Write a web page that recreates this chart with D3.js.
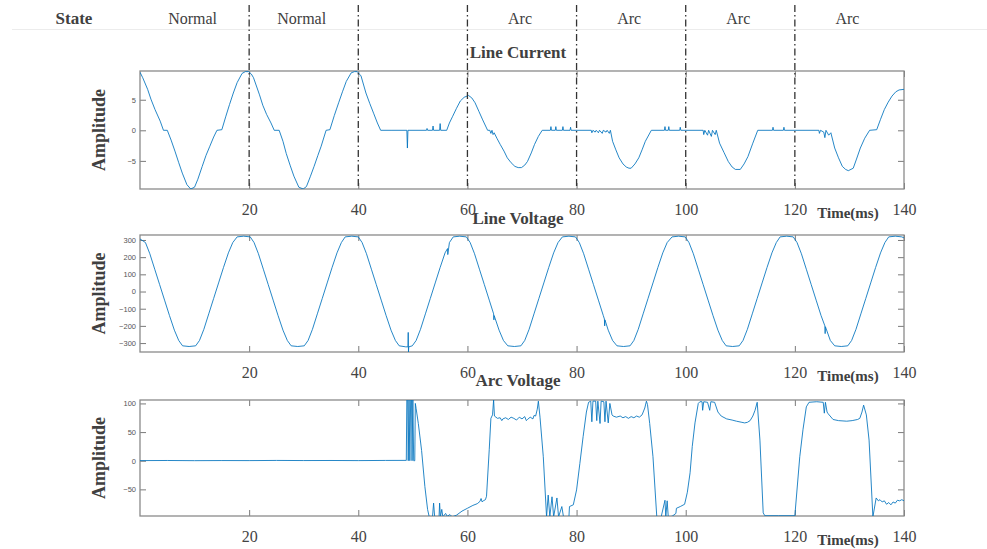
<!DOCTYPE html>
<html>
<head>
<meta charset="utf-8">
<script src="https://cdn.jsdelivr.net/npm/d3@7"></script>
<style>
  html, body { margin: 0; padding: 0; background: #fff; }
  svg { display: block; }
</style>
</head>
<body>
<svg id="chart" width="987" height="549"></svg>
<script>
// ---------------- DATA ----------------
const stateLabels = ["Normal", "Normal", "", "Arc", "Arc", "Arc", "Arc"];
const stateBoundaries = [0, 20, 40, 60, 80, 100, 120, 140];
const dividerTimes = [20, 40, 60, 80, 100, 120];
const xTickValues = [20, 40, 60, 80, 100, 120, 140];
const panelTitles = ["Line Current", "Line Voltage", "Arc Voltage"];
const currentTicks = [-5, 0, 5];
const voltageTicks = [-300, -200, -100, 0, 100, 200, 300];
const arcTicks = [-50, 0, 50, 100];
const currentDomain = [-9.6, 9.7];
const voltageDomain = [-352, 329];
const arcDomain = [-96.5, 106];

// [time ms, amplitude]
const lineCurrent = [
[0,9.5],[0.5,8.6],[1.4,6.7],[2.0,5.1],[2.75,3.4],[3.7,1.5],[4.3,0],[5.0,0],[5.7,-1.6],[6.4,-3.4],[7.1,-5.3],[7.75,-7.0],[8.6,-8.9],[9.3,-9.6],[10.0,-9.3],[10.6,-8.0],[11.4,-5.9],[12.1,-4.1],[12.8,-2.6],[13.5,-1.1],[14.1,0],[15.0,0.1],[15.7,2.2],[16.4,4.2],[17.1,6.1],[17.8,7.8],[18.7,9.3],[19.3,9.6],[19.9,9.6],[20.4,9.2],[20.8,8.6],[21.9,5.8],[22.5,4.1],[23.2,2.6],[24.0,1.2],[24.6,0],[25.5,0],[26.2,-1.8],[26.8,-3.8],[27.5,-5.7],[28.2,-7.5],[29.1,-9.3],[29.9,-9.6],[30.5,-9.2],[31.2,-7.6],[31.9,-5.9],[32.6,-4.1],[33.2,-2.6],[34.1,0],[34.8,0.1],[35.6,2.4],[36.4,4.5],[37.1,6.3],[37.8,8.0],[38.7,9.4],[39.3,9.6],[39.8,9.6],[40.5,8.9],[41.4,6.1],[42.1,4.4],[42.8,2.8],[43.5,1.2],[44.1,0],[46,0],[48.9,0],[49.0,-2.9],[49.1,0],[52.5,0],[52.6,0.3],[52.7,0],[53.6,0],[53.7,0.7],[53.8,0],[54.9,0],[55.0,1.1],[55.1,0],[56.2,0],[56.7,1.2],[57.3,2.3],[58.0,3.6],[58.7,4.8],[59.4,5.4],[60.2,5.7],[60.8,5.3],[61.4,4.5],[62.1,3.1],[62.8,1.7],[63.7,0],[64.1,0],[64.3,-0.5],[64.5,0],[64.7,-0.7],[64.9,-0.4],[65.4,-1.3],[66.0,-2.3],[66.7,-3.4],[67.3,-4.5],[68.0,-5.3],[68.7,-5.9],[69.3,-6.1],[69.9,-6.1],[70.5,-5.7],[71.0,-5.1],[71.7,-3.7],[72.3,-2.3],[73.0,-1.0],[73.7,0],[75.2,0],[75.3,0.6],[75.4,0],[76.1,0],[76.2,0.6],[76.3,0],[77.4,0],[77.5,0.6],[77.6,0],[78.8,0],[78.9,0.5],[79.0,0],[82.7,0],[82.8,-0.4],[83.0,0],[83.4,-0.3],[83.6,0],[84.0,-0.4],[84.2,0],[84.7,-0.5],[84.9,0],[85.4,-0.3],[85.6,0],[86.0,-0.5],[86.2,0],[86.6,-1.8],[87.2,-3.2],[87.8,-4.5],[88.5,-5.5],[89.1,-6.0],[89.6,-6.2],[90.0,-6.2],[90.7,-5.5],[91.4,-4.5],[92.0,-3.2],[92.6,-1.8],[93.7,0],[96.1,0],[96.2,0.6],[96.3,0],[96.8,0],[96.9,0.6],[97.0,0],[98.9,0],[99.0,0.5],[99.1,0],[103.2,0],[103.3,-0.7],[103.5,0],[104.0,-0.8],[104.2,0],[104.7,-1.0],[104.9,0],[105.4,-0.7],[105.6,0],[106.2,-2.1],[107.0,-3.6],[107.8,-5.1],[108.5,-6.0],[109.1,-6.4],[110.0,-6.4],[110.7,-5.5],[111.4,-4.3],[112.3,-2.1],[113.2,0],[115.9,0],[116.0,0.5],[116.1,0],[117.9,0],[118.0,0.5],[118.1,0],[124.4,0],[124.5,-0.5],[124.7,0],[125.3,-0.3],[125.5,-1.2],[125.7,0],[126.2,-0.8],[126.6,-0.4],[127.3,-2.9],[128.0,-4.5],[128.7,-5.9],[129.3,-6.4],[129.8,-6.6],[130.7,-6.2],[131.3,-4.7],[132.0,-2.9],[132.8,-1.3],[133.7,0],[135.0,0.1],[135.7,1.8],[136.4,3.4],[137.1,4.6],[137.8,5.6],[138.5,6.3],[139.1,6.6],[140,6.7]
];

const lineVoltage = [
[0,306],[1.0,285],[1.8,220],[2.7,130],[3.6,40],[4.5,-50],[5.4,-140],[6.3,-225],[7.1,-285],[7.8,-316],[9.0,-320],[10.2,-316],
[10.9,-285],[11.7,-220],[12.6,-130],[13.5,-40],[14.4,50],[15.3,140],[16.2,225],[17.0,285],[17.8,318],[19.0,322],
[20.2,318],[20.9,285],[21.7,220],[22.6,130],[23.5,40],[24.4,-50],[25.3,-140],[26.2,-225],[27.0,-285],[27.7,-316],[28.9,-320],[30.1,-316],
[30.8,-285],[31.6,-220],[32.5,-130],[33.4,-40],[34.3,50],[35.2,140],[36.1,225],[36.9,285],[37.6,318],[38.8,322],
[40.0,318],[40.7,285],[41.5,220],[42.4,130],[43.3,40],[44.2,-50],[45.1,-140],[46.0,-225],[46.8,-285],[47.5,-316],[48.7,-322],[49.1,-322],[49.15,-238],[49.2,-352],[49.25,-322],[49.9,-316],
[50.6,-285],[51.4,-220],[52.3,-130],[53.2,-40],[54.1,50],[55.0,140],[55.9,225],[56.35,250],[56.4,215],[56.7,285],[57.4,318],[58.6,322],
[59.8,318],[60.5,285],[61.3,220],[62.2,130],[63.1,40],[64.0,-50],[64.8,-130],[64.85,-165],[64.9,-140],[65.8,-225],[66.6,-285],[67.4,-316],[68.6,-320],[69.8,-316],
[70.5,-285],[71.3,-220],[72.2,-130],[73.1,-40],[74.0,50],[74.9,140],[75.8,225],[76.6,285],[77.4,318],[78.6,322],
[79.8,318],[80.5,285],[81.3,220],[82.2,130],[83.1,40],[84.0,-50],[84.9,-140],[85.1,-160],[85.15,-200],[85.2,-165],[85.8,-225],[86.6,-285],[87.4,-316],[88.6,-320],[89.8,-316],
[90.5,-285],[91.3,-220],[92.2,-130],[93.1,-40],[94.0,50],[94.9,140],[95.8,225],[96.6,285],[97.5,318],[98.7,322],
[99.9,318],[100.6,285],[101.4,220],[102.3,130],[103.2,40],[104.1,-50],[105.0,-140],[105.9,-225],[106.7,-285],[107.4,-316],[108.6,-320],[109.8,-316],
[110.5,-285],[111.3,-220],[112.2,-130],[113.1,-40],[114.0,50],[114.9,140],[115.8,225],[116.6,285],[117.3,318],[118.5,322],
[119.7,318],[120.4,285],[121.2,220],[122.1,130],[123.0,40],[123.9,-50],[124.8,-140],[125.5,-200],[125.55,-245],[125.6,-205],[126.5,-285],[127.3,-316],[128.5,-320],[129.7,-316],
[130.4,-285],[131.2,-220],[132.1,-130],[133.0,-40],[133.9,50],[134.8,140],[135.7,225],[136.5,285],[137.2,318],[138.4,322],[139.6,318],[140,312]
];

const arcVoltage = [
[0,0.2],[5,0.4],[10,0.1],[15,0.3],[20,0.2],[25,0.5],[30,0.3],[35,0.4],[40,0.2],[45,0.5],[48.8,0.6],
[48.9,110],[49.05,110],[49.15,0],[49.3,110],[49.45,0],[49.6,110],[49.75,110],[49.85,0],[50.0,108],[50.15,0],[50.35,0],[50.45,100],[50.6,91],[51.0,65],[51.6,18],[52.2,-45],[52.7,-85],[53.0,-98],
[53.6,-98],[53.8,-74],[54.0,-98],[54.8,-98],[54.9,-74],[55.05,-98],[55.3,-85],[55.5,-98],[56.0,-92],[56.3,-97],[56.8,-94],[57.2,-98],[58.0,-95],[59.0,-88],[60.0,-83],[61.0,-78],[61.8,-75],[62.3,-71],[62.5,-66],[62.7,-72],[62.9,-70],[63.3,-68],[63.5,-62],[64.0,20],[64.3,74],[64.6,80],[64.8,106],[64.95,78],
[65.5,74],[66.0,75],[66.3,70],[66.5,73],[67.0,75],[67.5,72],[68.0,76],[68.5,74],[69.0,71],[69.5,76],[70.0,73],[70.5,77],[70.8,70],[71.0,72],[71.5,76],[72.0,73],[72.2,79],[72.5,78],[72.8,90],[73.0,104],[73.3,76],[73.9,7],[74.5,-98],
[74.8,-60],[75.1,-98],[75.5,-63],[75.8,-98],[76.4,-65],[76.7,-98],[77.3,-80],[77.6,-98],[78.6,-98],[78.7,-80],[79.4,-77],[80.0,-51],[80.6,-5],[81.2,42],[81.8,85],[82.2,102],
[82.6,104],[82.8,68],[83.0,104],[83.5,104],[83.7,70],[83.9,104],[84.3,65],[84.5,104],[85.0,103],[85.2,68],[85.4,104],[85.8,66],[86.1,100],[86.5,80],[86.7,78],[87.3,76],[88.0,78],[88.5,75],[89.0,77],[89.5,74],[90.0,77],[90.5,75],[91.0,78],[91.5,76],[92.0,80],[92.5,92],[92.8,104],[93.0,98],[93.4,65],[94.0,7],[94.7,-98],
[95.5,-98],[96.2,-69],[96.35,-98],[96.6,-70],[96.8,-98],[97.5,-97],[98.2,-92],[98.3,-83],[99.0,-80],[99.8,-76],[100.3,-55],[100.8,-21],[101.2,25],[101.7,66],[102.3,100],
[102.6,103],[103.0,103],[103.1,88],[103.3,103],[104.0,102],[104.4,88],[104.6,103],[105.3,102],[105.9,85],[106.5,78],[107.5,73],[108.5,71],[109.3,69],[110.3,67],[110.8,66],[111.3,67],[111.8,70],[112.3,78],[112.7,88],[113.1,102],[113.6,36],[114.2,-91],[114.5,-96],
[117,-96],[120.0,-96],[120.9,7],[121.5,55],[122.1,94],[122.6,102],[124.0,103],[125.2,102],[125.4,83],[125.6,102],[125.9,85],[126.1,82],[127.0,72],[128.0,70],[129.5,69],[130.5,70],[131.5,72],[131.9,74],[132.3,85],[132.6,97],[133.1,80],[133.6,36],[134.3,-98],
[134.9,-65],[135.3,-70],[135.6,-68],[136.0,-72],[136.4,-70],[136.8,-76],[137.2,-73],[137.6,-77],[138.0,-72],[138.4,-74],[138.8,-69],[139.2,-70],[139.6,-68],[140,-70]
];

// ---------------- DRAWING ----------------
const svg = d3.select("#chart");
const serif = "'Liberation Serif','Times New Roman',serif";
const sans = "'Liberation Sans',Arial,sans-serif";
const lineBlue = "#0072BD";
const boxColor = "#8a8a8a";

const x = d3.scaleLinear().domain([0, 140]).range([140, 904]);

const panels = [
  { title: panelTitles[0], data: lineCurrent, domain: currentDomain, ticks: currentTicks, top: 71, bottom: 189, titleY: 58 },
  { title: panelTitles[1], data: lineVoltage, domain: voltageDomain, ticks: voltageTicks, top: 235, bottom: 352, titleY: 224 },
  { title: panelTitles[2], data: arcVoltage, domain: arcDomain, ticks: arcTicks, top: 400, bottom: 516, titleY: 386 }
];

// header
svg.append("line")
  .attr("x1", 12).attr("x2", 987).attr("y1", 29.5).attr("y2", 29.5)
  .attr("stroke", "#ececec").attr("stroke-width", 1);

svg.append("text")
  .attr("x", 74).attr("y", 24)
  .attr("text-anchor", "middle")
  .attr("font-family", serif).attr("font-weight", "bold").attr("font-size", 17)
  .attr("fill", "#404040")
  .text("State");

svg.selectAll("text.state")
  .data(stateLabels.map((s, i) => ({ s, a: stateBoundaries[i], b: stateBoundaries[i + 1] })).filter(d => d.s))
  .enter().append("text")
  .attr("class", "state")
  .attr("x", d => (x(d.a) + x(d.b)) / 2 - 2)
  .attr("y", 24)
  .attr("text-anchor", "middle")
  .attr("font-family", serif).attr("font-size", 16)
  .attr("fill", "#404040")
  .text(d => d.s);

panels.forEach((p, i) => {
  const y = d3.scaleLinear().domain(p.domain).range([p.bottom, p.top]);
  const g = svg.append("g");

  const clipId = "clip" + i;
  svg.append("clipPath").attr("id", clipId)
    .append("rect")
    .attr("x", x(0)).attr("y", p.top)
    .attr("width", x(140) - x(0)).attr("height", p.bottom - p.top);

  // y ticks left (inside) with labels
  const yl = g.append("g").attr("transform", `translate(${x(0)},0)`)
    .call(d3.axisLeft(y).tickValues(p.ticks).tickSize(-6).tickPadding(4).tickFormat(d3.format("d")));
  // y ticks right (inside)
  const yr = g.append("g").attr("transform", `translate(${x(140)},0)`)
    .call(d3.axisRight(y).tickValues(p.ticks).tickSize(-6).tickFormat(""));
  // x ticks bottom with labels
  const xb = g.append("g").attr("transform", `translate(0,${p.bottom})`)
    .call(d3.axisBottom(x).tickValues(xTickValues).tickSize(-6).tickPadding(15).tickFormat(d3.format("d")));
  // x ticks top
  const xt = g.append("g").attr("transform", `translate(0,${p.top})`)
    .call(d3.axisTop(x).tickValues(xTickValues).tickSize(-6).tickFormat(""));

  [yl, yr, xb, xt].forEach(a => {
    a.select(".domain").remove();
    a.selectAll(".tick line").attr("stroke", "#7a7a7a").attr("stroke-width", 1);
  });
  yl.selectAll("text")
    .attr("font-family", sans).attr("font-size", 7.5).attr("fill", "#555");
  xb.selectAll("text")
    .attr("font-family", serif).attr("font-size", 16).attr("fill", "#444");

  // box
  g.append("rect")
    .attr("x", x(0)).attr("y", p.top)
    .attr("width", x(140) - x(0)).attr("height", p.bottom - p.top)
    .attr("fill", "none").attr("stroke", boxColor).attr("stroke-width", 1.3);

  // series
  const line = d3.line().x(d => x(d[0])).y(d => y(d[1]));
  g.append("path")
    .datum(p.data)
    .attr("clip-path", `url(#${clipId})`)
    .attr("d", line)
    .attr("fill", "none")
    .attr("stroke", lineBlue)
    .attr("stroke-width", 1)
    .attr("stroke-linejoin", "round")
    .attr("opacity", 0.85);

  // title
  g.append("text")
    .attr("x", 518).attr("y", p.titleY)
    .attr("text-anchor", "middle")
    .attr("font-family", serif).attr("font-weight", "bold").attr("font-size", 17)
    .attr("fill", "#404040")
    .text(p.title);

  // y label
  const cy = (p.top + p.bottom) / 2;
  g.append("text")
    .attr("transform", `translate(105,${cy}) rotate(-90)`)
    .attr("text-anchor", "middle")
    .attr("font-family", serif).attr("font-weight", "bold").attr("font-size", 18)
    .attr("fill", "#404040")
    .text("Amplitude");

  // x label
  g.append("text")
    .attr("x", 848).attr("y", p.bottom + 29)
    .attr("text-anchor", "middle")
    .attr("font-family", serif).attr("font-weight", "bold").attr("font-size", 15)
    .attr("fill", "#404040")
    .text("Time(ms)");
});

// dash-dot state dividers
svg.selectAll("line.divider")
  .data(dividerTimes)
  .enter().append("line")
  .attr("class", "divider")
  .attr("x1", d => x(d)).attr("x2", d => x(d))
  .attr("y1", 5).attr("y2", panels[0].bottom)
  .attr("stroke", "#333").attr("stroke-width", 1.3)
  .attr("stroke-dasharray", "7,3,1.5,3");
</script>
</body>
</html>
